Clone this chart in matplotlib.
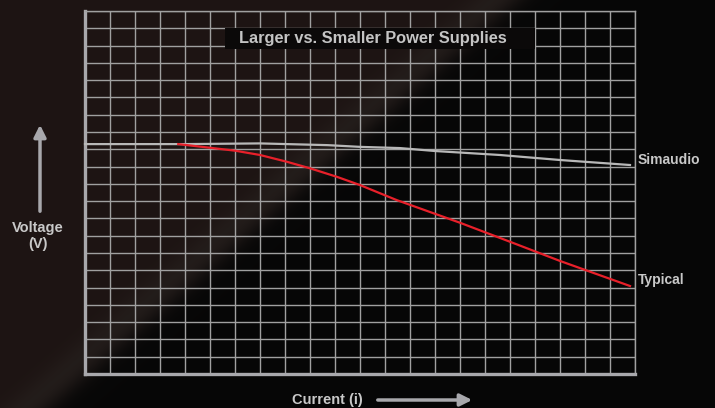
import numpy as np
import matplotlib.pyplot as plt
from matplotlib.patches import Rectangle, FancyArrowPatch

# current (grid columns) vs voltage (grid rows)
sim_x = [0, 4, 7, 9.7, 11, 12.6, 14, 16.6, 19, 21.8]
sim_y = [13.3, 13.3, 13.34, 13.24, 13.14, 13.07, 12.9, 12.67, 12.38, 12.09]
typ_x = [3.73, 6.0, 7.0, 8.07, 9.0, 10.07, 11.0, 12.47, 15.0, 17.0, 19.0, 21.8]
typ_y = [13.30, 12.92, 12.67, 12.28, 11.90, 11.41, 10.93, 10.06, 8.75, 7.65, 6.54, 5.09]

W, H = 715, 408
plt.rcParams['font.family'] = ['Liberation Sans', 'DejaVu Sans']
fig = plt.figure(figsize=(W / 100, H / 100), dpi=100)
fig.patch.set_facecolor('#070707')

# background: dark brown photo on the left, black on the right
bg = fig.add_axes([0, 0, 1, 1], zorder=-10)
yy, xx = np.mgrid[0:H, 0:W]
# signed distance to diagonal boundary through (170,300) and (377,120)
d = (xx - 170) + 1.15 * (yy - 300)
d = d / np.hypot(1, 1.15)
brown = np.array([0.115, 0.08, 0.075])
black = np.array([0.027, 0.027, 0.027])
band = np.array([0.19, 0.175, 0.16])
t = 1 / (1 + np.exp(d / 6))
img = t[..., None] * brown + (1 - t[..., None]) * black
glow = np.exp(-((d + 14) / 16) ** 2) * 0.35
img = img * (1 - glow[..., None]) + band * glow[..., None]
bg.imshow(img, aspect='auto', extent=[0, W, H, 0])
bg.axis('off')

def fx(px):
    return px / W

def fy(py):
    return 1 - py / H

ax = fig.add_axes([fx(85), fy(374), fx(635) - fx(85), fy(11) - fy(374)])
ax.set_facecolor('none')
ax.set_xlim(0, 22)
ax.set_ylim(0, 21)
ax.set_xticks(np.arange(0, 23))
ax.set_yticks(np.arange(0, 22))
ax.grid(True, color='#a0a0a0', linewidth=1.0)
ax.set_axisbelow(True)
ax.tick_params(length=0, labelbottom=False, labelleft=False)
for s in ['left', 'bottom']:
    ax.spines[s].set_color('#a8a8ac')
    ax.spines[s].set_linewidth(2.4)
for s in ['top', 'right']:
    ax.spines[s].set_color('#a0a0a0')
    ax.spines[s].set_linewidth(1.0)

# title box covering the grid
ax.add_patch(Rectangle(((225 - 85) / 550, (374 - 49) / 363), 310 / 550, 21 / 363,
                       transform=ax.transAxes, facecolor='#0b0909',
                       edgecolor='none', zorder=2))
ax.text((373 - 85) / 550, (374 - 39) / 363, 'Larger vs. Smaller Power Supplies',
        transform=ax.transAxes, ha='center', va='center', fontsize=11.8,
        fontweight='bold', color='#c4c4c4', zorder=3)

ax.plot(sim_x, sim_y, color='#b8b8b8', linewidth=1.6, zorder=4, clip_on=False)
ax.plot(typ_x, typ_y, color='#e8202a', linewidth=1.6, zorder=5, clip_on=False)

fig.text(fx(638), fy(160), 'Simaudio', ha='left', va='center', fontsize=10,
         fontweight='bold', color='#c8c8c8')
fig.text(fx(638), fy(280), 'Typical', ha='left', va='center', fontsize=10,
         fontweight='bold', color='#c8c8c8')

fig.text(fx(327), fy(400), 'Current (i)', ha='center', va='center', fontsize=10.5,
         fontweight='bold', color='#c8c8c8')
fig.text(fx(38), fy(236), 'Voltage\n(V)', ha='center', va='center', fontsize=10.5,
         fontweight='bold', color='#c8c8c8', linespacing=1.2)

fig.patches.append(FancyArrowPatch((fx(375), fy(400)), (fx(475), fy(400)),
                                   transform=fig.transFigure, arrowstyle='-|>',
                                   mutation_scale=18, linewidth=2.5,
                                   color='#a8a8ac'))
fig.patches.append(FancyArrowPatch((fx(40), fy(214)), (fx(40), fy(122)),
                                   transform=fig.transFigure, arrowstyle='-|>',
                                   mutation_scale=18, linewidth=2.5,
                                   color='#a8a8ac'))

fig.savefig('out.png', dpi=100, facecolor=fig.get_facecolor())
